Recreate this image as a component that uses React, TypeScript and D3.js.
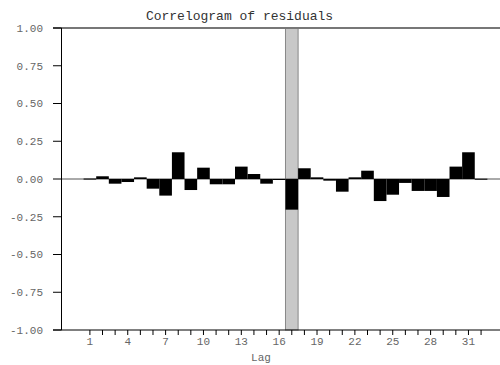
import React from "react";
import * as d3 from "d3";

const lags = [1,2,3,4,5,6,7,8,9,10,11,12,13,14,15,16,17,18,19,20,21,22,23,24,25,26,27,28,29,30,31,32];
const acf = [0.003,0.018,-0.031,-0.02,0.011,-0.064,-0.11,0.177,-0.073,0.075,-0.035,-0.035,0.082,0.033,-0.031,-0.005,-0.203,0.071,0.011,-0.011,-0.084,0.011,0.055,-0.146,-0.104,-0.026,-0.079,-0.079,-0.119,0.082,0.177,0.002];
const highlightLag = 17;
const yTicks = [-1, -0.75, -0.5, -0.25, 0, 0.25, 0.5, 0.75, 1];
const xLabelLags = [1,4,7,10,13,16,19,22,25,28,31];
const title = "Correlogram of residuals";
const xTitle = "Lag";

export default function App() {
  const W = 500, H = 365;
  const left = 61.5, right = 500, top = 28, bottom = 330;
  const x = d3.scaleLinear().domain([-1.25, 33.5]).range([left, right]);
  const y = d3.scaleLinear().domain([-1, 1]).range([bottom, top]);
  const bw = x(1) - x(0);
  const font = "'Liberation Mono', 'Courier New', monospace";
  return (
    <svg width={W} height={H} style={{ position: "absolute", left: 0, top: 0, background: "#fff" }}>
      <text x={239.5} y={20} textAnchor="middle" fontFamily={font} fontSize={13} fill="#333">{title}</text>
      {/* highlight band */}
      <rect x={x(highlightLag) - bw / 2} y={y(1)} width={bw} height={y(-1) - y(1)} fill="#c8c8c8" stroke="#888" strokeWidth={1} />
      {/* top line */}
      <line x1={53} x2={right} y1={y(1)} y2={y(1)} stroke="#777" strokeWidth={2} />
      {/* zero line */}
      <line x1={left} x2={right} y1={y(0)} y2={y(0)} stroke="#555" strokeWidth={1} />
      {/* bars */}
      {lags.map((l, i) => (
        <rect key={l} x={x(l) - bw / 2} y={Math.min(y(acf[i]), y(0))} width={bw}
          height={Math.max(Math.abs(y(acf[i]) - y(0)), 1)} fill="#000" />
      ))}
      {/* y axis */}
      <line x1={left} x2={left} y1={top} y2={bottom} stroke="#000" strokeWidth={1} />
      {yTicks.map(t => (
        <g key={t}>
          <line x1={53} x2={left} y1={y(t)} y2={y(t)} stroke="#000" strokeWidth={1} />
          <text x={43} y={y(t)} dy="0.35em" textAnchor="end" fontFamily={font} fontSize={11} fill="#666">{t.toFixed(2)}</text>
        </g>
      ))}
      {/* x axis */}
      <line x1={53} x2={right} y1={bottom} y2={bottom} stroke="#000" strokeWidth={1} />
      {lags.map(l => (
        <line key={l} x1={x(l)} x2={x(l)} y1={bottom} y2={bottom + 5} stroke="#000" strokeWidth={1} />
      ))}
      {xLabelLags.map(l => (
        <text key={l} x={x(l)} y={345} textAnchor="middle" fontFamily={font} fontSize={11} fill="#666">{l}</text>
      ))}
      <text x={261} y={361} textAnchor="middle" fontFamily={font} fontSize={11} fill="#666">{xTitle}</text>
    </svg>
  );
}
